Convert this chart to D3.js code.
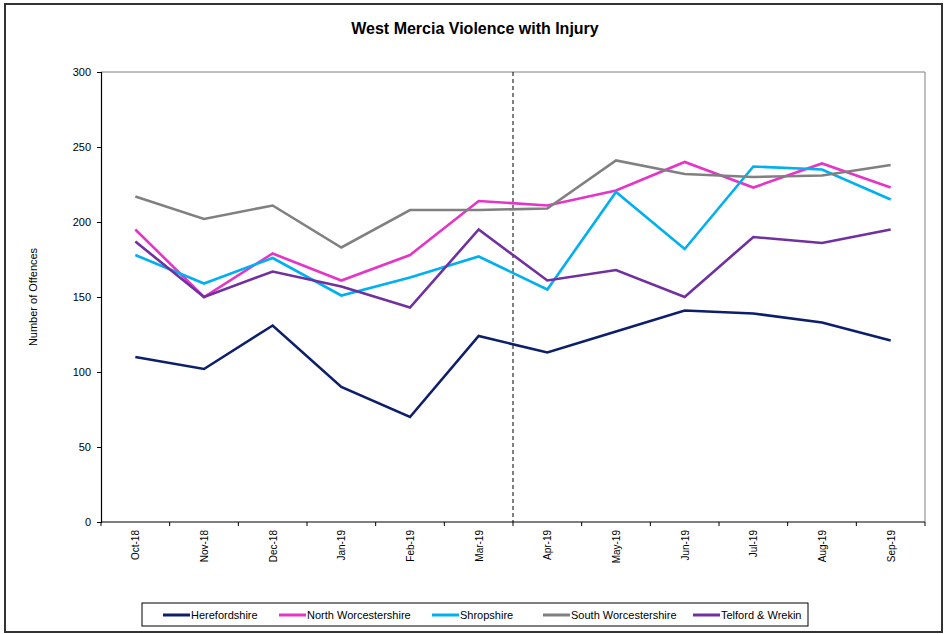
<!DOCTYPE html>
<html>
<head>
<meta charset="utf-8">
<script src="https://cdn.jsdelivr.net/npm/d3@7"></script>
<style>
  body { margin: 0; background: #fff; }
  svg { display: block; font-family: "Liberation Sans Narrow", "Liberation Sans", Arial, sans-serif; }
</style>
</head>
<body>
<div id="chart"></div>
<script>
// data
var months = ["Oct-18", "Nov-18", "Dec-18", "Jan-19", "Feb-19", "Mar-19",
              "Apr-19", "May-19", "Jun-19", "Jul-19", "Aug-19", "Sep-19"];
var herefordshire     = [110, 102, 131, 90, 70, 124, 113, 127, 141, 139, 133, 121];
var northWorcs        = [195, 150, 179, 161, 178, 214, 211, 221, 240, 223, 239, 223];
var shropshire        = [178, 159, 176, 151, 163, 177, 155, 220, 182, 237, 235, 215];
var southWorcs        = [217, 202, 211, 183, 208, 208, 209, 241, 232, 230, 231, 238];
var telford           = [187, 150, 167, 157, 143, 195, 161, 168, 150, 190, 186, 195];
var yTicks            = [0, 50, 100, 150, 200, 250, 300];
var splitAfter        = "Mar-19";

var series = [
  { name: "Herefordshire",        values: herefordshire, color: "#0d1f6b" },
  { name: "North Worcestershire", values: northWorcs,    color: "#e535c7" },
  { name: "Shropshire",           values: shropshire,    color: "#00b0f0" },
  { name: "South Worcestershire", values: southWorcs,    color: "#808080" },
  { name: "Telford & Wrekin",     values: telford,       color: "#7030a0" }
];

var W = 944, H = 634;
var pLeft = 101, pRight = 925, pTop = 72, pBottom = 522;

var svg = d3.select("#chart").append("svg")
    .attr("width", W)
    .attr("height", H);

// outer frame
svg.append("rect")
    .attr("x", 5).attr("y", 4)
    .attr("width", 937).attr("height", 628)
    .attr("fill", "#fff")
    .attr("stroke", "#333")
    .attr("stroke-width", 2);

svg.append("text")
    .attr("x", 475).attr("y", 34)
    .attr("text-anchor", "middle")
    .attr("font-size", "16px")
    .attr("font-weight", "bold")
    .text("West Mercia Violence with Injury");

var x = d3.scaleBand().domain(months).range([pLeft, pRight]);
var y = d3.scaleLinear().domain([0, 300]).range([pBottom, pTop]);

// plot border (top + right)
svg.append("path")
    .attr("d", "M" + pLeft + "," + pTop + "H" + pRight + "V" + pBottom)
    .attr("fill", "none")
    .attr("stroke", "#808080")
    .attr("stroke-width", 1);

// y axis
var yAxis = svg.append("g")
    .attr("transform", "translate(" + pLeft + ",0)")
    .call(d3.axisLeft(y).tickValues(yTicks).tickSize(4).tickPadding(6));
yAxis.select(".domain").attr("stroke", "#000").attr("stroke-width", 1.2);
yAxis.selectAll("text").attr("font-family", "Liberation Sans, Arial, sans-serif").attr("font-size", "11px").attr("fill", "#000");

// x axis: ticks between categories
var xAxis = svg.append("g")
    .attr("transform", "translate(0," + pBottom + ")");
xAxis.append("line")
    .attr("x1", pLeft).attr("x2", pRight)
    .attr("stroke", "#000").attr("stroke-width", 1.2);
xAxis.selectAll("line.tick")
    .data(d3.range(months.length + 1))
    .enter().append("line")
    .attr("class", "tick")
    .attr("x1", d => pLeft + d * x.step())
    .attr("x2", d => pLeft + d * x.step())
    .attr("y1", 0).attr("y2", 4)
    .attr("stroke", "#000");
xAxis.selectAll("text")
    .data(months)
    .enter().append("text")
    .attr("transform", d => "translate(" + (x(d) + x.bandwidth() / 2 + 4) + ",8) rotate(-90)")
    .attr("text-anchor", "end")
    .attr("font-family", "Liberation Sans, Arial, sans-serif")
    .attr("font-size", "10px")
    .text(d => d);

// y axis title
svg.append("text")
    .attr("transform", "translate(37," + ((pTop + pBottom) / 2) + ") rotate(-90)")
    .attr("text-anchor", "middle")
    .attr("font-family", "Liberation Sans, Arial, sans-serif")
    .attr("font-size", "11px")
    .text("Number of Offences");

// dashed divider
var splitX = x(splitAfter) + x.step();
svg.append("line")
    .attr("x1", splitX).attr("x2", splitX)
    .attr("y1", pTop).attr("y2", pBottom)
    .attr("stroke", "#000")
    .attr("stroke-width", 1)
    .attr("stroke-dasharray", "4,3");

// lines
var line = d3.line()
    .x((d, i) => x(months[i]) + x.bandwidth() / 2)
    .y(d => y(d));

svg.selectAll("path.series")
    .data(series)
    .enter().append("path")
    .attr("class", "series")
    .attr("d", d => line(d.values))
    .attr("fill", "none")
    .attr("stroke", d => d.color)
    .attr("stroke-width", 2.6)
    .attr("stroke-linejoin", "miter");

// legend
svg.append("rect")
    .attr("x", 142).attr("y", 603)
    .attr("width", 666).attr("height", 23)
    .attr("fill", "#fff")
    .attr("stroke", "#000");

var legendX = [163, 279, 432, 543, 693];
var leg = svg.selectAll("g.leg")
    .data(series)
    .enter().append("g")
    .attr("class", "leg")
    .attr("transform", (d, i) => "translate(" + legendX[i] + ",615)");
leg.append("line")
    .attr("x1", 0).attr("x2", 27)
    .attr("stroke", d => d.color)
    .attr("stroke-width", 3);
leg.append("text")
    .attr("x", 28).attr("y", 4)
    .attr("font-size", "11px")
    .text(d => d.name);
</script>
</body>
</html>
